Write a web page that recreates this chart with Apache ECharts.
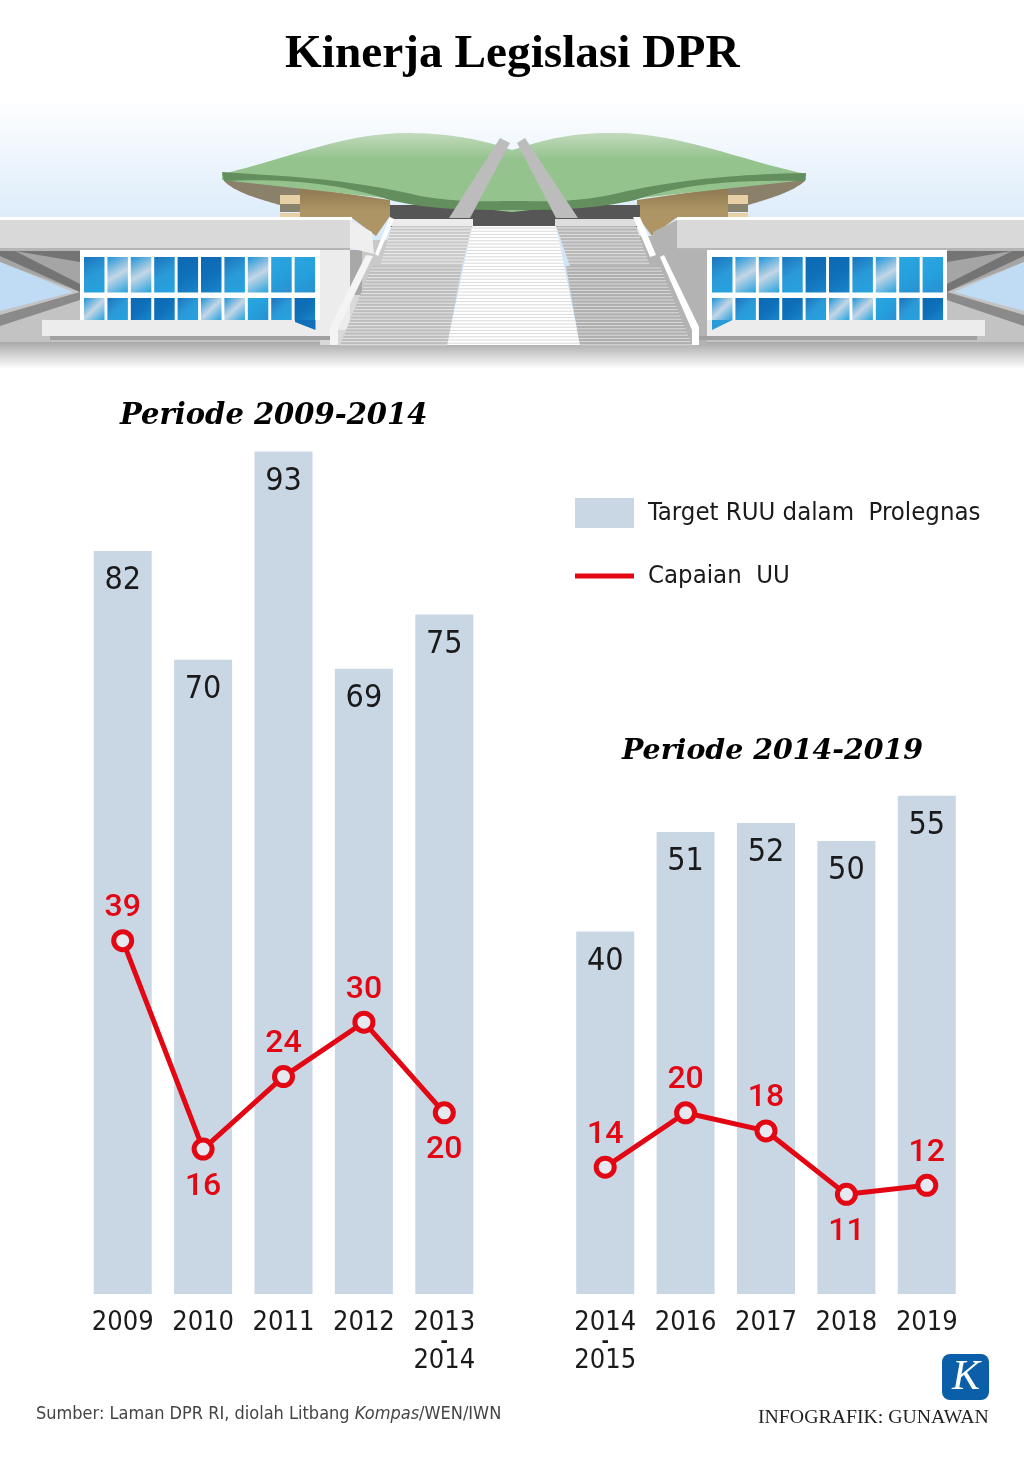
<!DOCTYPE html>
<html>
<head>
<meta charset="utf-8">
<title>Kinerja Legislasi DPR</title>
<script src="https://cdn.jsdelivr.net/npm/echarts@6/dist/echarts.min.js"></script>
<style>
  html, body { margin: 0; padding: 0; background: #fff; }
  #chart { width: 1024px; height: 1466px; }
</style>
</head>
<body>
<div id="chart"></div>
<script>
// data
const yearsA = ['2009', '2010', '2011', '2012', '2013-2014'];
const targetA = [82, 70, 93, 69, 75];
const capaianA = [39, 16, 24, 30, 20];
const yearsB = ['2014-2015', '2016', '2017', '2018', '2019'];
const targetB = [40, 51, 52, 50, 55];
const capaianB = [14, 20, 18, 11, 12];

const TARGET = 'Target RUU dalam  Prolegnas';
const CAPAIAN = 'Capaian  UU';
const NARROW = '"DejaVu Sans Condensed", "Roboto", sans-serif';
const SERIF = '"Liberation Serif", serif';
const SERIF2 = '"DejaVu Serif", serif';
const RED = '#e30613';
const BAR = '#c9d7e5';

const myChart = echarts.init(document.getElementById('chart'), null, { renderer: 'canvas' });

// ---------- building illustration ----------
function poly(points, fill, z) {
    return { type: 'polygon', shape: { points: points }, style: { fill: fill }, z: z || 0, silent: true };
}
function rect(x, y, w, h, fill, z) {
    return { type: 'rect', shape: { x: x, y: y, width: w, height: h }, style: { fill: fill }, z: z || 0, silent: true };
}
function grad(x, y, x2, y2, stops) {
    return new echarts.graphic.LinearGradient(x, y, x2, y2, stops.map((c, i) => ({ offset: i / (stops.length - 1), color: c })));
}
// graphic has no path type, so sample the curves into a polygon
function bez(path, fill, z) {
    const pts = [];
    const toks = path.replace(/([MCLZ])/g, ' $1 ').trim().split(/\s+/);
    let i = 0, cmd = '';
    while (i < toks.length) {
        if (/[MCLZ]/.test(toks[i])) { cmd = toks[i++]; continue; }
        const num = () => parseFloat(toks[i++]);
        if (cmd === 'C') {
            const p0 = pts[pts.length - 1];
            const c1 = [num(), num()], c2 = [num(), num()], p3 = [num(), num()];
            for (let s = 1; s <= 24; s++) {
                const t = s / 24, u = 1 - t;
                pts.push([
                    u * u * u * p0[0] + 3 * u * u * t * c1[0] + 3 * u * t * t * c2[0] + t * t * t * p3[0],
                    u * u * u * p0[1] + 3 * u * u * t * c1[1] + 3 * u * t * t * c2[1] + t * t * t * p3[1]
                ]);
            }
        } else {
            pts.push([num(), num()]);
        }
    }
    return poly(pts, fill, z);
}

const paneTones = {
    d: ['#0d68b2', '#0f70ba', '#1a86c9'],
    m: ['#1c74bc', '#2a9ad8', '#25a3df'],
    b: ['#2ba6e0', '#25a0dc', '#2a8fd0'],
    r: ['#1f94d6', '#c3d6e6', '#26a2dd']
};
const row1Tones = ['m', 'r', 'r', 'm', 'd', 'd', 'm', 'r', 'b', 'b'];
const row2Tones = ['r', 'm', 'd', 'd', 'm', 'r', 'r', 'b', 'm', 'd'];

function windows(x0, step) {
    const out = [];
    for (let i = 0; i < 10; i++) {
        const x = x0 + i * step;
        out.push(rect(x, 257, 20.5, 35.5, grad(0, 0, 1, 1, paneTones[row1Tones[i]]), 3));
        out.push(rect(x, 298, 20.5, 22, grad(0, 0, 1, 1, paneTones[row2Tones[i]]), 3));
    }
    return out;
}

// stairs are thin horizontal lines between a slanted left and right edge
function stairs(x1t, x2t, yt, x1b, x2b, yb, base, lineCol, z) {
    const out = [poly([[x1t, yt], [x2t, yt], [x2b, yb], [x1b, yb]], base, z)];
    for (let y = yt + 2; y < yb; y += 3.2) {
        const t = (y - yt) / (yb - yt);
        out.push({
            type: 'line', silent: true, z: z + 0.1,
            shape: { x1: x1t + (x1b - x1t) * t, y1: y, x2: x2t + (x2b - x2t) * t, y2: y },
            style: { stroke: lineCol, lineWidth: 1 }
        });
    }
    return out;
}

const building = [].concat(
    // sky and ground shade
    [rect(0, 98, 1024, 246, grad(0, 0, 0, 1, ['#ffffff', '#dcebfa', '#bcdaf4']), 0)],
    [rect(0, 336, 1024, 8, '#c3c3c3', 0.5)],
    [rect(0, 342, 1024, 27, grad(0, 0, 0, 1, ['#a9a9a9', '#ffffff']), 0.6)],

    // roof
    [bez('M222 174 C290 158 340 134 405 133 C450 133 480 140 500 146 L512 150 L526 146 C550 138 580 132 620 133 C685 135 740 160 806 174 L806 180 L512 212 L222 180 Z',
        grad(0, 0, 0, 1, ['#c2dabb', '#94c38e', '#94c38e', '#94c38e']), 2)],
    [bez('M222 172 C280 176 345 178 420 196 C460 203 490 201 513 201 C540 201 570 203 610 195 C680 178 750 174 806 173 L805 181 C740 180 690 182 635 200 C590 210 550 210 513 210 C470 210 430 210 390 200 C340 183 280 178 224 181 Z', '#638e5d', 3)],
    // underside and walls below the roof
    [bez('M224 181 C270 178 290 179 300 187 L300 205 L280 205 C255 198 235 192 224 181 Z', '#8b8069', 1)],
    [bez('M805 181 C760 178 735 179 728 187 L728 205 L748 205 C772 198 792 192 805 181 Z', '#8b8069', 1)],
    [poly([[300, 187], [390, 200], [390, 216], [376, 236], [352, 218], [300, 218]], grad(0, 0, 0, 1, ['#8d7750', '#ae9565', '#ae9565']), 1)],
    [poly([[728, 187], [637, 200], [637, 216], [652, 236], [676, 218], [728, 218]], grad(0, 0, 0, 1, ['#8d7750', '#ae9565', '#ae9565']), 1)],
    [rect(280, 195, 20, 9, '#e7cfa6', 1), rect(280, 205, 20, 7, '#87836d', 1), rect(280, 213, 20, 5, '#e7cfa6', 1)],
    [rect(728, 195, 20, 9, '#e7cfa6', 1), rect(728, 205, 20, 7, '#87836d', 1), rect(728, 213, 20, 5, '#e7cfa6', 1)],
    [rect(390, 205, 250, 22, '#565656', 1)],

    // left wing
    [rect(0, 217, 352, 3, '#ffffff', 2), rect(0, 220, 350, 29, '#d9d9d9', 2), rect(0, 248, 350, 3, '#b5b5b5', 2)],
    [poly([[350, 220], [372, 232], [374, 254], [350, 248]], '#efefef', 2)],
    [rect(0, 251, 80, 90, '#c3c3c3', 1)],
    [poly([[0, 251], [80, 251], [80, 292], [0, 262]], '#a5a5a5', 1.1)],
    [poly([[0, 251], [80, 251], [80, 262], [15, 251], [80, 284], [80, 292], [0, 256]], '#747474', 1.2)],
    [poly([[0, 262], [73, 292], [0, 311]], '#c0dcf5', 1.3)],
    [poly([[0, 315], [80, 292], [80, 300], [0, 326]], '#8a8a8a', 1.3)],
    [rect(80, 250, 240, 75, '#ffffff', 2), rect(320, 250, 30, 80, '#ececec', 2), rect(350, 250, 15, 45, '#a8a8a8', 1.5)],
    [rect(320, 295, 40, 50, '#d9d9d9', 1.5), rect(362, 240, 36, 60, '#c9c9c9', 1.5)],
    [rect(42, 320, 288, 16, '#ececec', 4), rect(50, 336, 282, 4, '#a0a0a0', 4)],

    // right wing
    [rect(677, 217, 347, 3, '#ffffff', 2), rect(677, 220, 347, 29, '#d9d9d9', 2), rect(677, 248, 347, 3, '#b5b5b5', 2)],
    [poly([[677, 220], [653, 232], [653, 254], [677, 248]], '#b3b3b3', 2)],
    [rect(947, 251, 77, 90, '#c3c3c3', 1)],
    [poly([[947, 251], [1024, 251], [1024, 262], [947, 292]], '#a5a5a5', 1.1)],
    [poly([[947, 251], [1024, 251], [1024, 256], [947, 292], [947, 284], [1012, 251], [947, 262]], '#747474', 1.2)],
    [poly([[1024, 262], [954, 292], [1024, 311]], '#c0dcf5', 1.3)],
    [poly([[1024, 315], [947, 292], [947, 300], [1024, 326]], '#8a8a8a', 1.3)],
    [rect(707, 250, 240, 75, '#ffffff', 2), rect(630, 236, 77, 108, '#b3b3b3', 1.5)],
    [rect(707, 320, 278, 16, '#ececec', 4), rect(695, 336, 282, 4, '#a0a0a0', 4)],

    windows(84, 23.4),
    windows(712, 23.4),
    [poly([[295, 320], [315.5, 320], [315.5, 330], [295, 322]], '#0f70ba', 4.5)],
    [poly([[712, 320], [732.5, 320], [712, 330]], '#2a9ad8', 4.5)],

    // stairs
    stairs(472, 556, 226, 447, 580, 345, '#ffffff', '#d9d9d9', 5),
    stairs(392, 472, 226, 380, 462, 266, '#c9c9c9', '#eeeeee', 5),
    stairs(372, 462, 266, 340, 447, 345, '#bdbdbd', '#e6e6e6', 5),
    stairs(556, 636, 226, 570, 650, 266, '#b7b7b7', '#e0e0e0', 5),
    stairs(566, 660, 266, 580, 692, 345, '#aeaeae', '#dddddd', 5),
    [rect(390, 219, 83, 7, '#ececec', 6), rect(555, 219, 85, 7, '#dedede', 6)],

    // railings
    [poly([[330, 345], [338, 345], [338, 329], [373, 256], [366, 255], [330, 327]], '#f4f4f4', 7)],
    [poly([[375, 254], [390, 217], [394, 219], [378, 256]], '#ffffff', 7)],
    [poly([[633, 217], [640, 217], [656, 255], [650, 257]], '#ffffff', 7)],
    [poly([[664, 255], [699, 327], [699, 345], [692, 345], [692, 330], [660, 257]], '#ffffff', 7)],

    // struts in front of the roof
    [poly([[500, 138], [510, 143], [470, 218], [449, 218]], '#bcbcbc', 8)],
    [poly([[525, 138], [517, 143], [556, 218], [578, 218]], '#bcbcbc', 8)]
);

// ---------- series ----------
// labels of these points sit under the marker, the rest above
const labelBelow = { A: ['2010', '2013-2014'], B: ['2018'] };

function yearLabel(value) {
    const parts = value.split('-');
    if (parts.length === 1) return '{y|' + value + '}';
    return '{y|' + parts[0] + '}\n{d|-}\n{y|' + parts[1] + '}';
}

function makeBars(values, idx) {
    return {
        name: TARGET, type: 'bar', xAxisIndex: idx, yAxisIndex: idx,
        data: values, barWidth: 58,
        itemStyle: { color: BAR },
        label: {
            show: true, position: 'insideTop', distance: 14,
            color: '#1a1a1a', fontFamily: NARROW, fontSize: 32
        },
        silent: true, z: 2
    };
}
function makeLine(values, years, below, idx) {
    return {
        name: CAPAIAN, type: 'line', xAxisIndex: idx, yAxisIndex: idx,
        data: values.map((v, i) => {
            const under = below.indexOf(years[i]) >= 0;
            return { value: v, label: { position: under ? 'bottom' : 'top', distance: under ? 10 : 5 } };
        }),
        symbol: 'circle', symbolSize: 18,
        lineStyle: { color: RED, width: 5 },
        itemStyle: { color: '#e4eaf0', borderColor: RED, borderWidth: 5 },
        label: { show: true, color: RED, fontFamily: 'Roboto, sans-serif', fontWeight: 500, fontSize: 32 },
        silent: true, z: 3
    };
}
function makeXAxis(years, idx) {
    return {
        type: 'category', gridIndex: idx, data: years,
        axisLine: { show: false }, axisTick: { show: false },
        axisLabel: {
            interval: 0, margin: 14, formatter: yearLabel,
            rich: {
                y: { fontFamily: NARROW, fontSize: 27, color: '#1a1a1a', lineHeight: 30 },
                d: { fontFamily: NARROW, fontWeight: 'bold', fontSize: 20, color: '#1a1a1a', lineHeight: 8 }
            }
        }
    };
}
function makeYAxis(idx) {
    return { type: 'value', gridIndex: idx, min: 0, max: 100, show: false };
}

const option = {
    animation: false,
    backgroundColor: '#ffffff',
    title: [
        { text: 'Kinerja Legislasi DPR', left: 285, top: 31, padding: 0, textStyle: { fontFamily: SERIF, fontWeight: 'bold', fontSize: 47.3, color: '#000' } },
        { text: 'Periode 2009-2014', left: 120, top: 402, padding: 0, textStyle: { fontFamily: SERIF2, fontWeight: 'bold', fontStyle: 'italic', fontSize: 29, color: '#000' } },
        { text: 'Periode 2014-2019', left: 622, top: 738, padding: 0, textStyle: { fontFamily: SERIF2, fontWeight: 'bold', fontStyle: 'italic', fontSize: 28.4, color: '#000' } },
        {
            text: 'Sumber: Laman DPR RI, diolah Litbang {i|Kompas}/WEN/IWN', left: 36, top: 1405, padding: 0,
            textStyle: {
                fontFamily: NARROW, fontWeight: 'normal', fontSize: 18, color: '#444',
                rich: { i: { fontFamily: NARROW, fontWeight: 'normal', fontStyle: 'italic', fontSize: 18, color: '#444' } }
            }
        },
        { text: 'INFOGRAFIK: GUNAWAN', left: 758, top: 1408, padding: 0, textStyle: { fontFamily: SERIF, fontWeight: 'normal', fontSize: 19.8, color: '#222' } },
        { text: 'K', left: 952, top: 1357, padding: 0, textStyle: { fontFamily: SERIF, fontStyle: 'italic', fontWeight: 'normal', fontSize: 42, color: '#fff' }, z: 10 }
    ],
    legend: [
        {
            data: [TARGET], left: 575, top: 498, padding: 0, itemWidth: 59, itemHeight: 30, itemGap: 0,
            icon: 'rect', selectedMode: false,
            textStyle: { fontFamily: NARROW, fontSize: 25.5, color: '#1a1a1a', padding: [12, 0, 0, 9] }
        },
        {
            data: [CAPAIAN], left: 575, top: 563, padding: 0, itemWidth: 59, itemHeight: 5,
            icon: 'rect', selectedMode: false,
            itemStyle: { color: RED, borderWidth: 0 },
            textStyle: { fontFamily: NARROW, fontSize: 25.5, color: '#1a1a1a', padding: [12, 0, 0, 9] }
        }
    ],
    grid: [
        { left: 82.5, top: 388, width: 402, height: 906 },
        { left: 565, top: 388, width: 402, height: 906 }
    ],
    xAxis: [makeXAxis(yearsA, 0), makeXAxis(yearsB, 1)],
    yAxis: [makeYAxis(0), makeYAxis(1)],
    series: [
        makeBars(targetA, 0),
        makeLine(capaianA, yearsA, labelBelow.A, 0),
        makeBars(targetB, 1),
        makeLine(capaianB, yearsB, labelBelow.B, 1)
    ],
    graphic: { elements: building.concat([
        { type: 'rect', shape: { x: 942, y: 1354, width: 47, height: 46, r: 8 }, style: { fill: '#0b5ea8' }, z: 5, silent: true }
    ]) }
};

myChart.setOption(option);
</script>
</body>
</html>
